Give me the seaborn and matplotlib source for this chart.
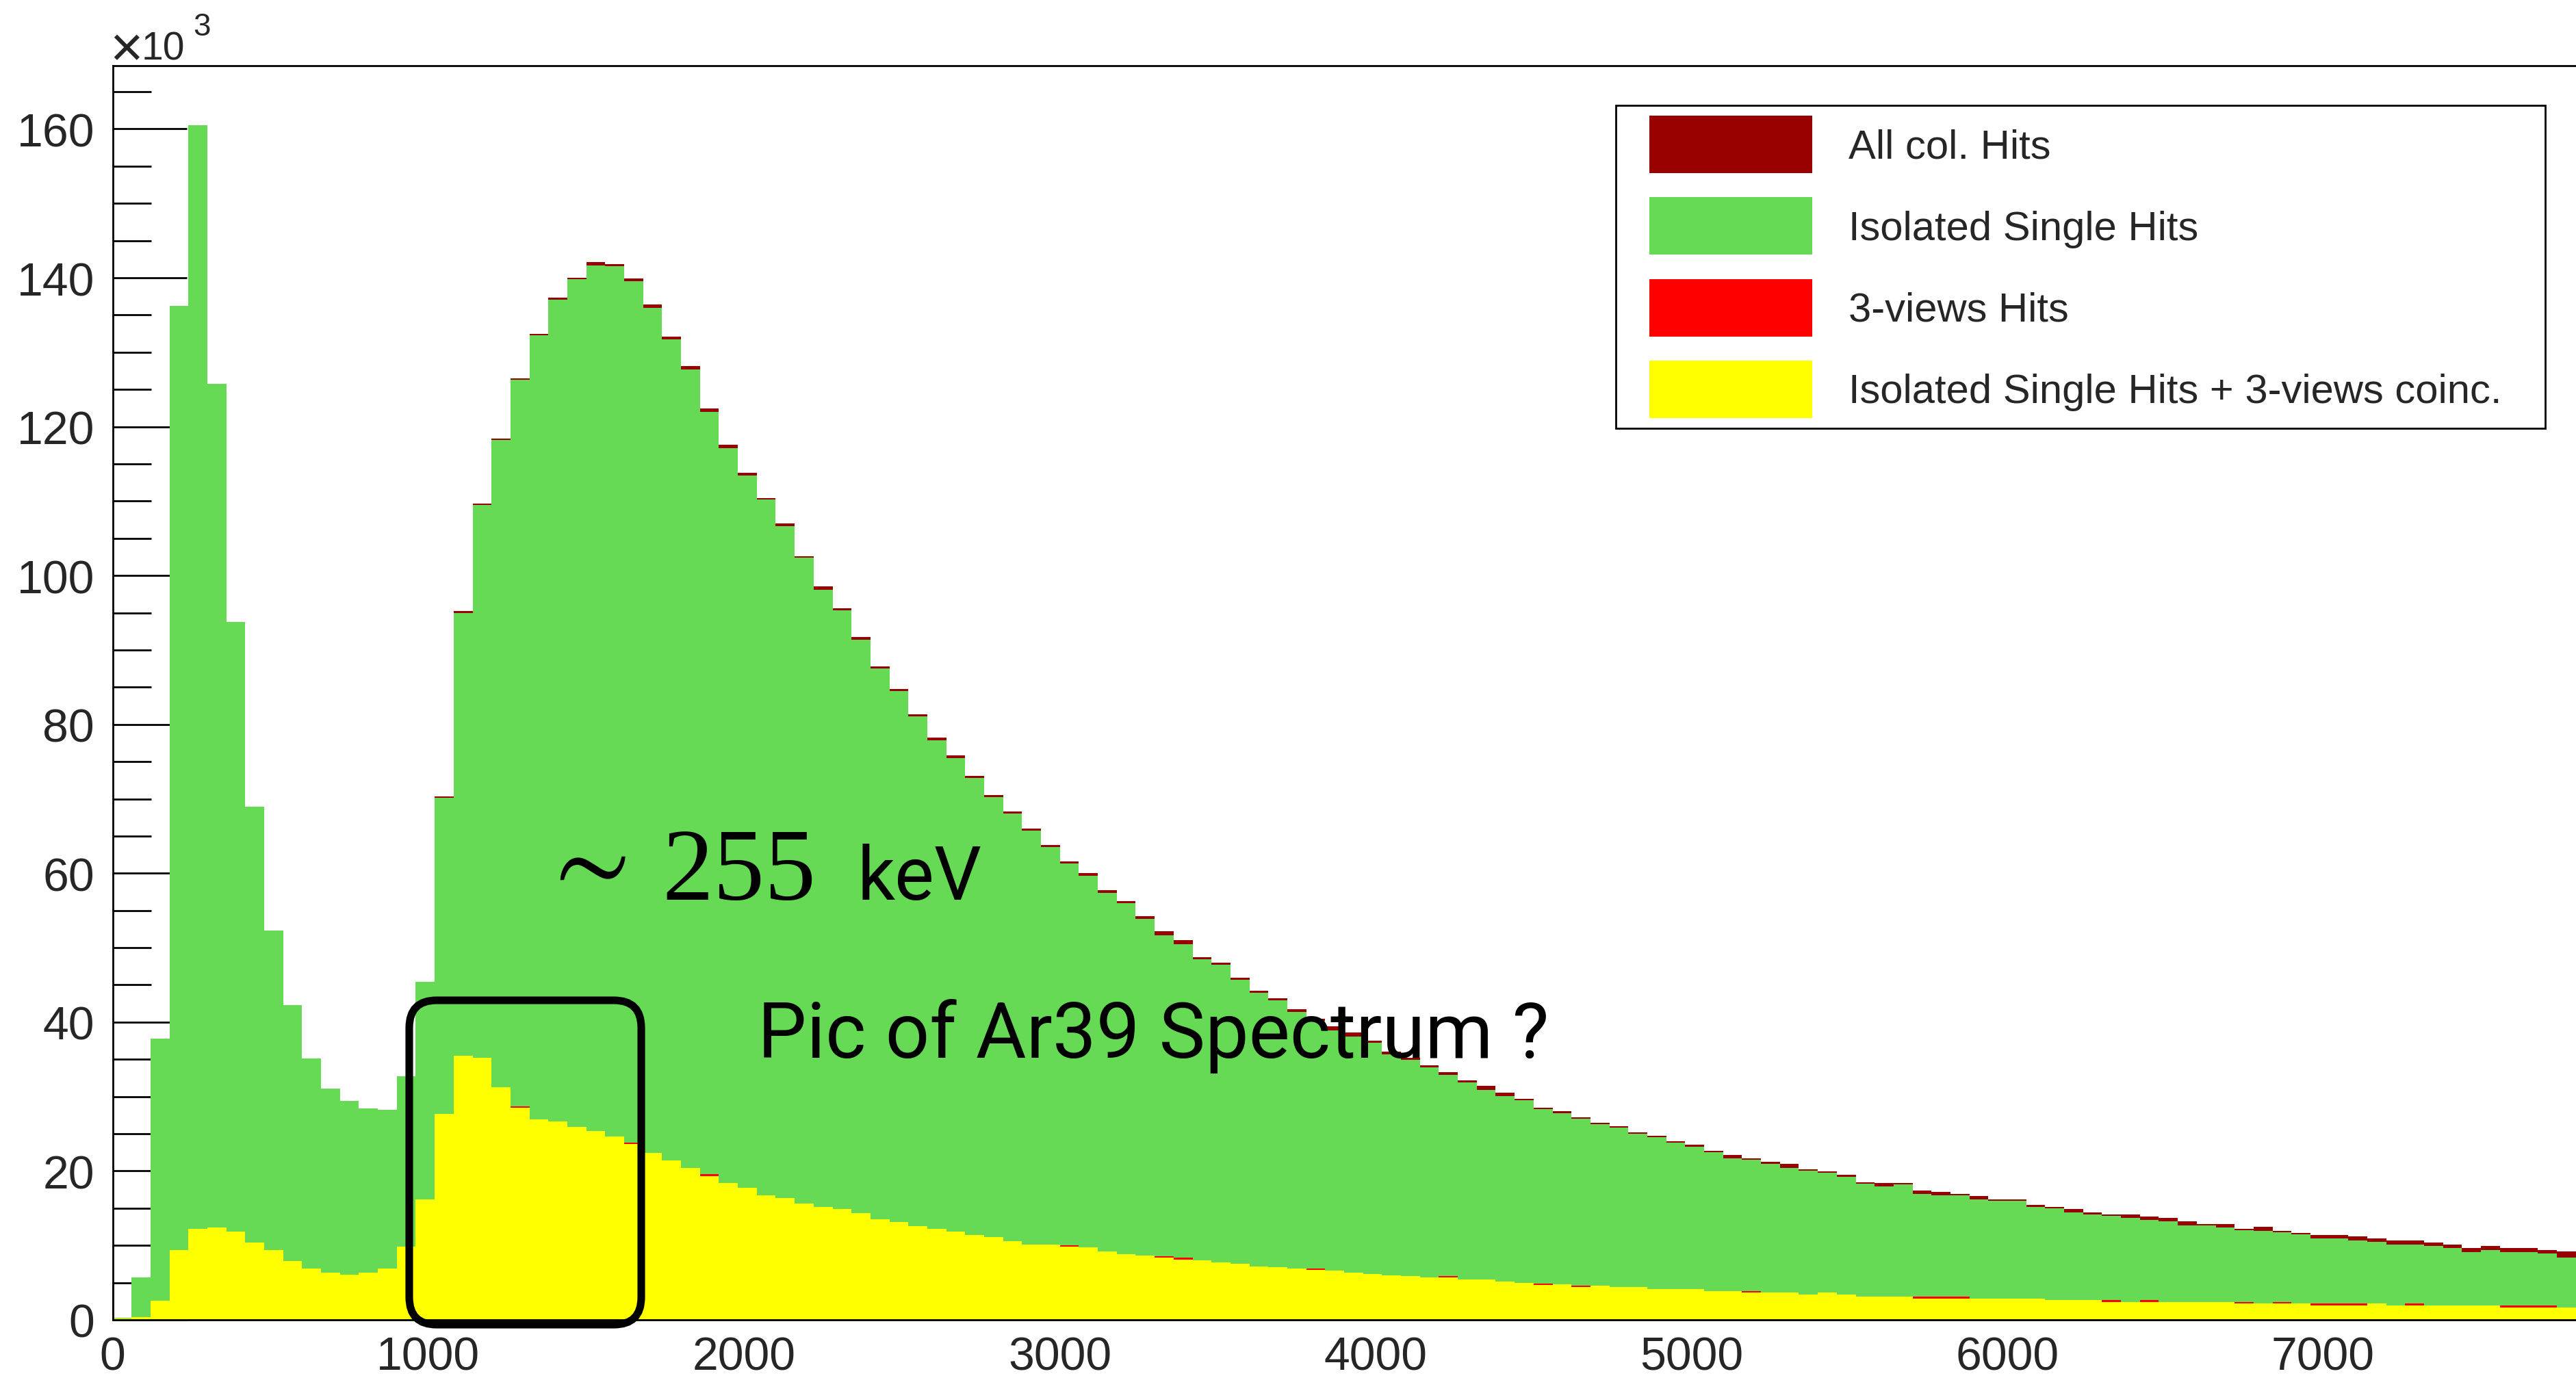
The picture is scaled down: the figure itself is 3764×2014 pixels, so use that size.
import numpy as np
import pandas as pd
import matplotlib
matplotlib.use("Agg")
import matplotlib.pyplot as plt
import matplotlib.patches as mpatches
from matplotlib.legend_handler import HandlerPatch
from matplotlib.ticker import MultipleLocator
from matplotlib import font_manager
import seaborn as sns

# ---------------------------------------------------------------------------
# Collection-plane hit charge spectra, 60 ADC bins, counts in thousands
# ---------------------------------------------------------------------------
BIN_WIDTH = 60
adc_edges = [float(e) for e in range(0, 7800 + BIN_WIDTH, BIN_WIDTH)]
adc_centers = [e + BIN_WIDTH / 2 for e in adc_edges[:-1]]

all_col_hits = [
    0.3, 5.67, 37.8, 136.2, 160.5, 125.8, 93.8, 68.9, 52.3, 42.25,
    35.1, 31.1, 29.4, 28.4, 28.2, 32.7, 45.4, 70.3, 95.2, 109.7,
    118.4, 126.5, 132.5, 137.3, 140.0, 142.1, 141.8, 139.9, 136.4, 132.1,
    128.1, 122.4, 117.6, 113.8, 110.4, 107.0, 102.6, 98.5, 95.6, 91.7,
    87.8, 84.8, 81.4, 78.2, 75.8, 73.1, 70.5, 68.3, 66.0, 63.8,
    61.6, 60.0, 57.7, 56.3, 54.2, 52.2, 51.0, 48.7, 48.0, 46.0,
    44.2, 43.2, 41.7, 40.45, 39.4, 38.6, 37.5, 36.0, 35.2, 34.2,
    33.25, 32.2, 31.4, 30.5, 29.7, 28.5, 28.0, 27.2, 26.5, 26.0,
    25.2, 24.7, 24.0, 23.5, 22.7, 22.2, 21.7, 21.2, 20.96, 20.2,
    19.97, 19.46, 18.45, 18.4, 18.4, 17.4, 17.2, 16.9, 16.66, 16.2,
    16.2, 15.4, 15.2, 14.9, 14.4, 14.15, 14.15, 13.9, 13.67, 13.2,
    12.9, 12.9, 12.2, 12.5, 11.95, 11.7, 11.4, 11.4, 11.2, 10.94,
    10.66, 10.66, 10.4, 10.1, 9.65, 9.9, 9.65, 9.65, 9.4, 9.16,
]

isolated_single_hits = [
    0.3, 5.67, 37.8, 136.2, 160.5, 125.8, 93.8, 68.9, 52.3, 42.25,
    35.1, 31.1, 29.4, 28.4, 28.2, 32.7, 45.4, 70.1, 95.0, 109.5,
    118.2, 126.3, 132.3, 137.1, 139.8, 141.65, 141.6, 139.5, 135.95, 131.7,
    127.65, 122.0, 117.15, 113.4, 110.2, 106.6, 102.4, 98.1, 95.3, 91.4,
    87.5, 84.5, 81.1, 77.9, 75.5, 72.8, 70.2, 68.0, 65.7, 63.5,
    61.3, 59.7, 57.4, 56.0, 53.9, 51.7, 50.5, 48.4, 47.7, 45.7,
    43.9, 42.9, 41.4, 40.15, 38.9, 38.1, 37.2, 35.7, 34.9, 33.9,
    32.95, 31.9, 30.9, 30.05, 29.5, 28.3, 27.8, 27.0, 26.3, 25.8,
    25.0, 24.5, 23.8, 23.3, 22.5, 21.7, 21.5, 21.0, 20.4, 20.0,
    19.8, 19.25, 18.25, 17.9, 18.2, 16.95, 16.75, 16.7, 16.2, 16.0,
    16.0, 15.2, 15.0, 14.4, 14.2, 13.95, 13.7, 13.4, 13.2, 12.7,
    12.7, 12.4, 12.0, 11.95, 11.75, 11.5, 10.9, 10.9, 10.7, 10.45,
    10.1, 10.1, 9.9, 9.65, 9.1, 9.4, 9.1, 9.1, 8.9, 8.4,
]

three_views_hits = [
    0.2, 0.37, 2.6, 9.4, 12.2, 12.4, 11.9, 10.4, 9.35, 7.9,
    6.9, 6.37, 6.1, 6.37, 6.9, 9.86, 16.17, 27.7, 35.5, 35.2,
    31.25, 28.7, 26.9, 26.7, 25.9, 25.4, 24.66, 23.85, 22.45, 21.4,
    20.4, 19.55, 18.4, 17.7, 16.7, 16.4, 15.6, 15.2, 14.9, 14.3,
    13.5, 13.1, 12.6, 12.2, 11.9, 11.4, 11.1, 10.6, 10.1, 10.1,
    10.0, 9.7, 9.2, 8.85, 8.66, 8.55, 8.35, 7.97, 7.68, 7.56,
    7.2, 7.08, 6.88, 6.85, 6.59, 6.35, 6.15, 5.95, 5.86, 5.66,
    5.86, 5.46, 5.38, 5.14, 4.93, 4.85, 4.8, 4.6, 4.6, 4.38,
    4.38, 4.14, 4.14, 4.14, 3.9, 3.9, 3.9, 3.7, 3.7, 3.37,
    3.7, 3.37, 3.12, 3.12, 3.12, 3.12, 3.12, 3.12, 2.88, 2.88,
    2.88, 2.88, 2.63, 2.63, 2.63, 2.63, 2.39, 2.63, 2.39, 2.39,
    2.39, 2.39, 2.39, 2.18, 2.39, 2.18, 2.18, 2.18, 2.18, 2.18,
    1.9, 2.18, 1.9, 1.9, 1.9, 1.9, 1.9, 1.9, 1.9, 1.65,
]

isolated_3views_coinc = [
    0.2, 0.37, 2.6, 9.4, 12.2, 12.4, 11.9, 10.4, 9.35, 7.9,
    6.9, 6.37, 6.1, 6.37, 6.9, 9.86, 16.17, 27.7, 35.5, 35.2,
    31.25, 28.5, 26.9, 26.7, 25.9, 25.4, 24.66, 23.6, 22.45, 21.4,
    20.4, 19.3, 18.4, 17.7, 16.7, 16.4, 15.6, 15.2, 14.9, 14.3,
    13.5, 13.1, 12.6, 12.2, 11.9, 11.4, 11.1, 10.6, 10.1, 10.1,
    9.8, 9.7, 9.2, 8.85, 8.66, 8.35, 8.1, 7.97, 7.68, 7.56,
    7.2, 7.08, 6.88, 6.67, 6.59, 6.35, 6.15, 5.95, 5.86, 5.66,
    5.66, 5.46, 5.38, 5.14, 4.93, 4.66, 4.8, 4.41, 4.6, 4.38,
    4.38, 4.14, 4.14, 4.14, 3.9, 3.9, 3.7, 3.7, 3.7, 3.37,
    3.7, 3.37, 3.12, 3.12, 3.12, 2.88, 2.88, 2.88, 2.88, 2.88,
    2.88, 2.88, 2.63, 2.63, 2.63, 2.39, 2.39, 2.39, 2.39, 2.39,
    2.39, 2.39, 2.18, 2.18, 2.18, 2.18, 1.9, 1.9, 1.9, 2.18,
    1.9, 1.9, 1.9, 1.9, 1.9, 1.9, 1.65, 1.65, 1.65, 1.65,
]

series_labels = [
    "All col. Hits",
    "Isolated Single Hits",
    "3-views Hits",
    "Isolated Single Hits + 3-views coinc.",
]
series_colors = ["#990000", "#66D955", "#FF0000", "#FFFF00"]
x_ticks = [0, 1000, 2000, 3000, 4000, 5000, 6000, 7000]
y_ticks = [0, 20, 40, 60, 80, 100, 120, 140, 160]

# ---------------------------------------------------------------------------
sns.set_theme(style="white")
available = {f.name for f in font_manager.fontManager.ttflist}


def first_available(*names):
    for n in names:
        if n in available:
            return n
    return "DejaVu Sans"


SANS = first_available("Liberation Sans", "Arial", "DejaVu Sans")
NARROW = first_available("Liberation Sans Narrow", "Roboto", "Liberation Sans")
SERIF = first_available("Liberation Serif", "DejaVu Serif")
plt.rcParams["font.family"] = [SANS, "DejaVu Sans"]

W, H, DPI = 3764, 2015, 100
fig = plt.figure(figsize=(W / DPI, H / DPI), dpi=DPI)
fig.patch.set_facecolor("white")

left_px, bottom_px, top_px = 164.5, 1930, 97
ax = fig.add_axes([left_px / W, 1 - bottom_px / H, 1 - left_px / W, (bottom_px - top_px) / H])
ax.set_facecolor("white")

frame = pd.DataFrame({
    "adc": adc_centers,
    "all_col": all_col_hits,
    "isolated": isolated_single_hits,
    "three_views": three_views_hits,
    "iso_3views": isolated_3views_coinc,
})

# histograms drawn on top of each other, largest first
for column, color in zip(["all_col", "isolated", "three_views", "iso_3views"], series_colors):
    sns.histplot(data=frame, x="adc", weights=column, bins=adc_edges,
                 element="step", fill=True, color=color, alpha=1.0,
                 linewidth=0, ax=ax)

ax.set_xlim(0, 7801)
ax.set_ylim(0, 168.5)
ax.set_xlabel("")
ax.set_ylabel("")

ax.set_xticks(x_ticks)
ax.set_yticks(y_ticks)
ax.yaxis.set_minor_locator(MultipleLocator(5))
ax.set_axisbelow(True)
ax.tick_params(axis="y", which="major", direction="in", length=78, width=2,
               color="black", labelsize=49, pad=19, left=True, right=False)
ax.tick_params(axis="y", which="minor", direction="in", length=40, width=2,
               color="black", left=True, right=False)
ax.tick_params(axis="x", which="major", direction="in", length=40, width=2,
               color="black", labelsize=49, pad=16, bottom=True, top=False)
for side in ["left", "top", "bottom"]:
    ax.spines[side].set_visible(True)
    ax.spines[side].set_color("black")
    ax.spines[side].set_linewidth(2)
ax.spines["right"].set_visible(False)

# exponent of the y axis
fig.text(160 / W, 1 - 97 / H, "\u00d7", fontsize=60, ha="left", va="baseline")
fig.text(207 / W, 1 - 88 / H, "10", fontsize=41, ha="left", va="baseline")
fig.text(282 / W, 1 - 52 / H, "3", fontsize=33, ha="left", va="baseline")


# legend with inset colour swatches
def inset_patch(legend, orig_handle, xdescent, ydescent, width, height, fontsize):
    off = 0.57 * fontsize
    return mpatches.Rectangle((-xdescent + off, -ydescent), width - off, height)


handles = [mpatches.Patch(facecolor=c, edgecolor="none", label=l)
           for c, l in zip(series_colors, series_labels)]
leg = ax.legend(
    handles=handles, loc="upper left",
    bbox_to_anchor=(2361 / W, 1 - 636 / H, (3719 - 2361) / W, (636 - 155) / H),
    bbox_transform=fig.transFigure, mode="expand", borderaxespad=0,
    fontsize=43, frameon=True, fancybox=False, shadow=False,
    handlelength=4.556, handleheight=1.79, handletextpad=0.89,
    labelspacing=0.59, borderpad=0.25,
    handler_map={mpatches.Patch: HandlerPatch(patch_func=inset_patch)},
)
leg.get_frame().set_edgecolor("black")
leg.get_frame().set_linewidth(2)
leg.get_frame().set_facecolor("white")
leg.get_frame().set_alpha(1)

# annotations
ax.text(1350, 60.9, r"$\sim$", fontsize=116, math_fontfamily="stix",
        ha="left", va="center", color="black")
ax.text(1739, 56.5, "255", fontsize=108, family=[SERIF, "DejaVu Serif"],
        ha="left", va="baseline", color="black")
kev = ax.text(2359, 56.5, "keV", fontsize=95, family=[NARROW, "DejaVu Sans"],
              ha="left", va="baseline", color="black")
question = ax.text(2043, 35.3, "Pic of Ar39 Spectrum ?", fontsize=94,
                   family=[NARROW, "DejaVu Sans"], ha="left", va="baseline",
                   color="black")

# size the narrow annotation texts to their printed widths
fig.canvas.draw()
renderer = fig.canvas.get_renderer()
for txt, target_px in [(kev, 182), (question, 1156)]:
    width_px = txt.get_window_extent(renderer).width
    txt.set_fontsize(txt.get_fontsize() * target_px / width_px)

highlight = mpatches.FancyBboxPatch(
    (5.98, 0.78), 9.37 - 5.98, 5.52 - 0.78,
    boxstyle="round,pad=0,rounding_size=0.4",
    transform=fig.dpi_scale_trans, fill=False, edgecolor="black",
    linewidth=8, clip_on=False, zorder=6)
fig.add_artist(highlight)

fig.savefig("out.png", dpi=DPI)
